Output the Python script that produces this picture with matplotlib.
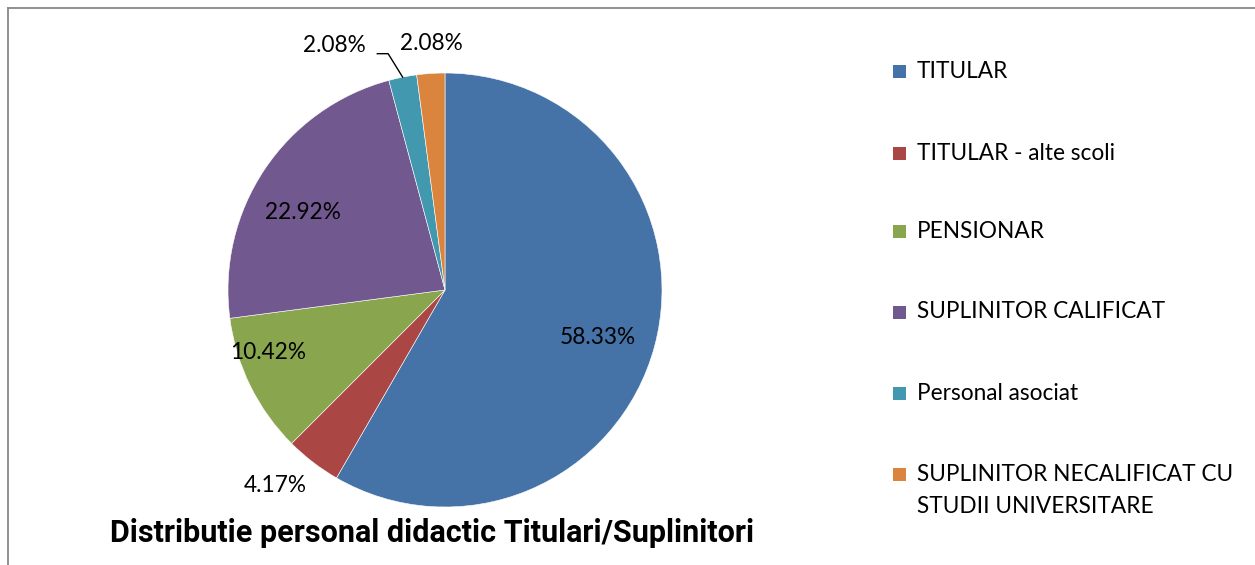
import matplotlib
matplotlib.use("Agg")
import matplotlib.pyplot as plt
from matplotlib.patches import Rectangle
from matplotlib.lines import Line2D
import numpy as np

categories = ["TITULAR", "TITULAR - alte scoli", "PENSIONAR", "SUPLINITOR CALIFICAT",
              "Personal asociat", "SUPLINITOR NECALIFICAT CU\nSTUDII UNIVERSITARE"]
counts = [28, 2, 5, 11, 1, 1]
colors = ["#4572A7", "#AA4643", "#89A54E", "#71588F", "#4198AF", "#DB843D"]
title = "Distributie personal didactic Titulari/Suplinitori"

# label positions in pie-radius units (layout only)
label_pos = [(0.705, -0.221), (-0.783, -0.899), (-0.816, -0.29), (-0.654, 0.355),
             (-0.512, 1.129), (-0.065, 1.138)]

W, H = 1255, 565
fig = plt.figure(figsize=(W / 100, H / 100), dpi=100)
fig.patch.set_facecolor("white")

cx, cy, R = 445, 290, 217
ax = fig.add_axes([(cx - R) / W, (H - cy - R) / H, 2 * R / W, 2 * R / H])
wedges, _ = ax.pie(counts, colors=colors, startangle=90, counterclock=False,
                   radius=1, wedgeprops=dict(edgecolor="white", linewidth=0.4))
ax.set_xlim(-1, 1)
ax.set_ylim(-1, 1)
ax.set_aspect("auto")
ax.axis("off")

font = ["Lato", "DejaVu Sans"]
fs = 16.3
total = sum(counts)
for i, (c, pos) in enumerate(zip(counts, label_pos)):
    pct = 100.0 * c / total
    ax.text(pos[0], pos[1], f"{pct:.2f}%", ha="center", va="center",
            fontsize=fs, family=font, color="black", clip_on=False)

# leader line for the teal label
w = wedges[4]
mid = np.deg2rad((w.theta1 + w.theta2) / 2)
ex, ey = np.cos(mid), np.sin(mid)
tx, ty = label_pos[4]
ax.add_line(Line2D([tx + 0.2, tx + 0.25, ex], [ty - 0.04, ty - 0.04, ey],
                   color="black", linewidth=1.0, clip_on=False))

# legend (manual)
leg_x_sq = 893
leg_x_txt = 917
row_y = [72, 153, 232, 312, 393, 474]
sq = 13
for lab, col, y in zip(categories, colors, row_y):
    fig.patches.append(Rectangle(((leg_x_sq) / W, (H - y - sq / 2) / H), sq / W, sq / H,
                                 transform=fig.transFigure, facecolor=col, edgecolor="none"))
    if "\n" in lab:
        fig.text(leg_x_txt / W, (H - (y + 16.5)) / H, lab, ha="left", va="center",
                 fontsize=fs, family=font, color="black", linespacing=1.68)
    else:
        fig.text(leg_x_txt / W, (H - y) / H, lab, ha="left", va="center",
                 fontsize=fs, family=font, color="black")

# title
fig.text(432 / W, (H - 533) / H, title, ha="center", va="center", fontsize=22,
         family=["Roboto", "DejaVu Sans"], fontweight="bold", color="black")

# border lines (top and left)
fig.add_artist(Line2D([8 / W, 1], [(H - 8) / H, (H - 8) / H], transform=fig.transFigure,
                      color="#888888", linewidth=1.3))
fig.add_artist(Line2D([8 / W, 8 / W], [(H - 8) / H, 0], transform=fig.transFigure,
                      color="#888888", linewidth=1.3))

fig.savefig("out.png", dpi=100, facecolor="white")
